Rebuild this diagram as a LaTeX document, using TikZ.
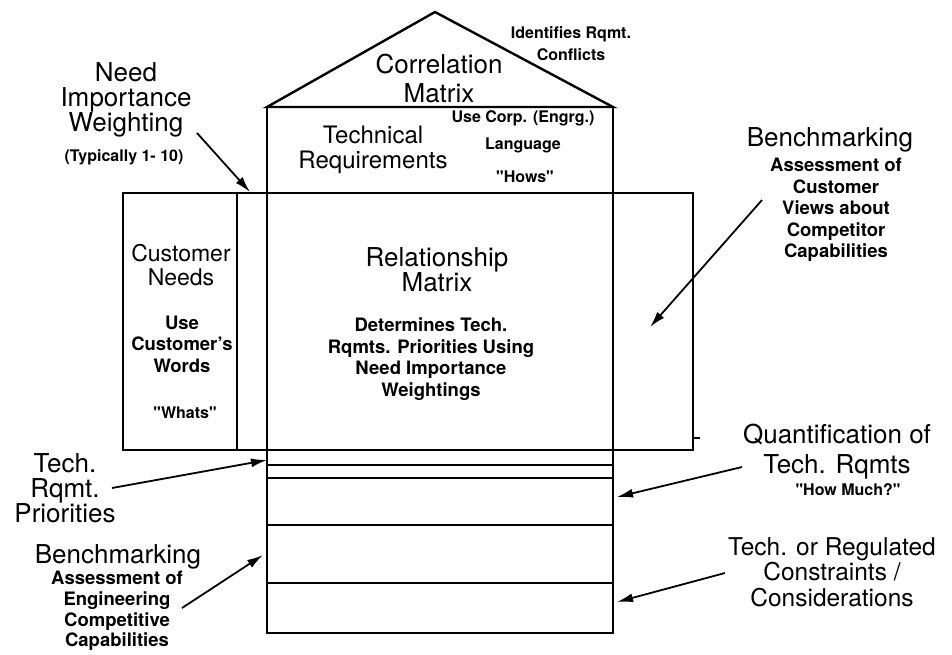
\documentclass[tikz,border=0pt]{standalone}
\usepackage{fontspec}
\setmainfont{TeX Gyre Heros}
\usetikzlibrary{arrows.meta,positioning}
\tikzset{
  wall/.style     = {line width=2.4pt, line join=miter},
  floor/.style    = {line width=1.8pt},
  pointer/.style  = {-{Latex[length=16pt,width=9pt]}, line width=1.8pt},
  bigtxt/.style   = {font=\fontsize{26}{25}\selectfont, align=center, inner sep=0pt},
  midtxt/.style   = {font=\fontsize{18.5}{21.5}\selectfont\bfseries, align=center, inner sep=0pt},
  smalltxt/.style = {font=\fontsize{16}{22}\selectfont\bfseries, align=center, inner sep=0pt}
}
\newcommand{\dq}{\textquotedbl}

\begin{document}
\begin{tikzpicture}[x=1pt,y=-1pt]

\useasboundingbox (0,0) rectangle (952,654);

% --- the house: roof, column and the two side rooms ----------------------
\draw[wall] (267,107) -- (435,12) -- (613,107) -- cycle;
\draw[wall] (267,107) rectangle (613,633);
\draw[wall] (123,193) -- (693,193);
\draw[wall] (123,193) rectangle (267,450);
\draw[floor] (237,193) -- (237,450);
\draw[wall] (613,193) rectangle (693,450);
\draw[floor] (693,438) -- (700,438);
\draw[wall] (267,450) -- (613,450);

% --- the basement floors --------------------------------------------------
\foreach \y in {465,478,525,583}
  \draw[floor] (267,\y) -- (613,\y);

% --- texts inside the house -----------------------------------------------
\node[bigtxt, font=\fontsize{26}{29}\selectfont] (corr) at (439,78) {Correlation\\Matrix};
\node[bigtxt, font=\fontsize{24}{25}\selectfont] (techreq) at (373,150) {Technical\\Requirements};
\node[smalltxt, font=\fontsize{16}{27}\selectfont\bfseries] (corp) at (523,132) {Use Corp. (Engrg.)\\Language};
\node[smalltxt] (hows) at (525,177) {\dq Hows\dq};
\node[bigtxt, font=\fontsize{23}{24}\selectfont] (needs) at (181,265) {Customer\\Needs};
\node[midtxt] (words) at (182,344) {Use\\Customer's\\Words};
\node[smalltxt] (whats) at (185,413) {\dq Whats\dq};
\node[bigtxt] (relmat) at (437,270) {Relationship\\Matrix};
\node[midtxt] (determ) at (431,359) {Determines Tech.\\Rqmts. Priorities Using\\Need Importance\\Weightings};

% --- labels round the house -----------------------------------------------
\node[bigtxt] (need) at (126,100) {Need\\Importance\\Weighting};
\node[smalltxt] (typical) at (124,157) {(Typically 1- 10)};
\node[smalltxt] (conflicts) at (571,44) {Identifies Rqmt.\\Conflicts};
\node[bigtxt] (custbench) at (830,140) {Benchmarking};
\node[midtxt] (custviews) at (836,210) {Assessment of\\Customer\\Views about\\Competitor\\Capabilities};
\node[bigtxt, font=\fontsize{26}{30}\selectfont] (quant) at (837,452) {Quantification of\\Tech. Rqmts};
\node[smalltxt] (howmuch) at (848,490) {\dq How Much?\dq};
\node[bigtxt, font=\fontsize{24.5}{25.5}\selectfont] (regul) at (832,572) {Tech. or Regulated\\Constraints /\\Considerations};
\node[bigtxt] (prio) at (65,488) {Tech.\\Rqmt.\\Priorities};
\node[bigtxt] (engbench) at (118,557) {Benchmarking};
\node[midtxt, font=\fontsize{18.5}{20.7}\selectfont\bfseries] (engcap) at (117,611) {Assessment of\\Engineering\\Competitive\\Capabilities};

% --- arrow ends -----------------------------------------------------------
\coordinate (needtail)  at (197,133);  \coordinate (needhead)  at (250,192);
\coordinate (viewtail)  at (762,200);  \coordinate (viewhead)  at (650,327);
\coordinate (quanttail) at (742,467);  \coordinate (quanthead) at (617,497);
\coordinate (regtail)   at (725,573);  \coordinate (reghead)   at (617,602);
\coordinate (priotail)  at (112,488);  \coordinate (priohead)  at (267,460);
\coordinate (engtail)   at (182,608);  \coordinate (enghead)   at (263,555);

\draw[pointer] (needtail)  -- (needhead);
\draw[pointer] (viewtail)  -- (viewhead);
\draw[pointer] (quanttail) -- (quanthead);
\draw[pointer] (regtail)   -- (reghead);
\draw[pointer] (priotail)  -- (priohead);
\draw[pointer] (engtail)   -- (enghead);

\end{tikzpicture}
\end{document}
